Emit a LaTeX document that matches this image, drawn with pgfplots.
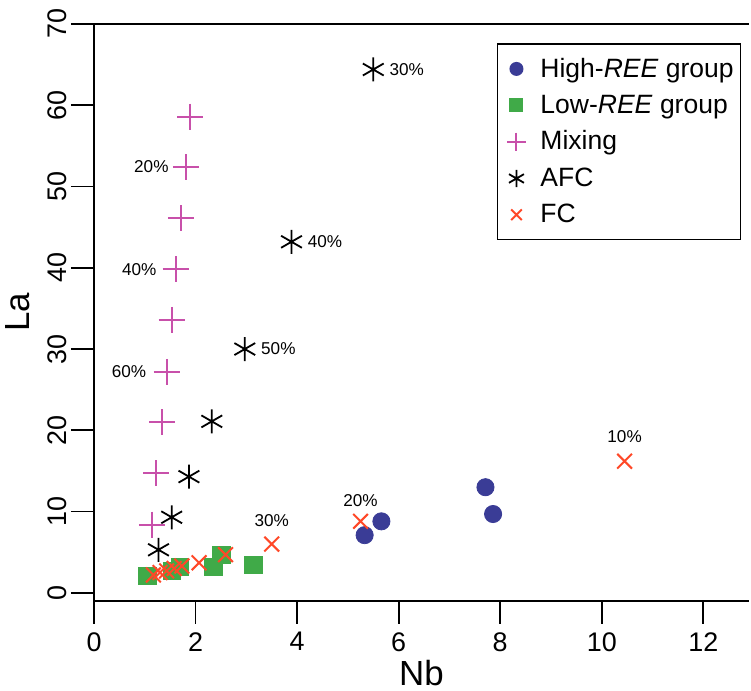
\documentclass[border=0pt]{standalone}
\usepackage{fontspec}
\setmainfont{Liberation Sans}
\usepackage{pgfplots}
\pgfplotsset{compat=1.18}
\definecolor{hiblue}{RGB}{58,60,150}
\definecolor{logreen}{RGB}{64,170,72}
\definecolor{mixmag}{RGB}{200,80,170}
\definecolor{fcred}{RGB}{255,72,40}
\begin{document}
\begin{tikzpicture}
\begin{axis}[
  scale only axis,
  width=327.5bp, height=288.5bp,
  xmin=0, xmax=12.9, ymin=-1, ymax=70,
  axis lines*=left,
  axis line style={line width=0.9bp, black},
  every tick/.style={line width=0.9bp, black},
  tick align=outside,
  major tick length=11.5bp,
  xtick={0,2,...,12}, ytick={0,10,...,70},
  /pgf/number format/assume math mode=true,
  tick label style={font=\fontsize{13.5}{16}\selectfont},
  yticklabel style={rotate=90, anchor=south, inner sep=2bp},
  xticklabel style={inner sep=2bp, yshift=-2bp},
  xlabel={Nb}, ylabel={La},
  label style={font=\fontsize{17.5}{20}\selectfont},
  xlabel style={inner sep=0.5bp, yshift=-1.8bp},
  ylabel style={yshift=3.5bp},
  clip=false,
  legend cell align=left,
  legend image code/.code={%
    \draw[#1, draw=none, mark size=0.72\pgfplotmarksize] plot coordinates {(8.5bp,0bp)};
    \path[draw=none] (0bp,0bp) (18bp,0bp);},
  legend style={at={(axis description cs:0.9885,0.967)}, anchor=north east,
    draw=black, line width=0.8bp, font=\fontsize{13.3}{16}\selectfont,
    row sep=3.4bp, inner xsep=1bp, inner ysep=5bp,
    nodes={inner xsep=2.5bp}},
]
\addplot[only marks, mark=*, mark size=4.3bp, hiblue, mark options={draw=hiblue, fill=hiblue}]
  coordinates {(5.33,7.1) (5.66,8.8) (7.71,13.0) (7.86,9.7)};
\addlegendentry{High-\textit{REE} group}
\addplot[only marks, mark=square*, mark size=4.3bp, logreen, mark options={draw=logreen, fill=logreen}]
  coordinates {(1.05,2.1) (1.53,2.7) (1.69,3.2) (2.35,3.2) (2.51,4.7) (3.14,3.4)};
\addlegendentry{Low-\textit{REE} group}
\addplot[only marks, mark=+, mark size=6.5bp, mixmag, mark options={line width=1bp, draw=mixmag}]
  coordinates {(1.90,58.6) (1.81,52.4) (1.71,46.1) (1.61,39.8) (1.53,33.6) (1.43,27.2) (1.34,21.0) (1.23,14.7) (1.14,8.4)};
\addlegendentry{Mixing}
\addplot[only marks, mark=asterisk, mark size=6bp, black, mark options={line width=0.9bp, draw=black}]
  coordinates {(5.50,64.4) (3.89,43.2) (2.97,30.0) (2.32,21.1) (1.87,14.3) (1.53,9.3) (1.27,5.3)};
\addlegendentry{AFC}
\addplot[only marks, mark=x, mark size=5.2bp, fcred, mark options={line width=1bp, draw=fcred}]
  coordinates {(1.17,2.2) (1.30,2.5) (1.43,2.7) (1.58,3.0) (1.73,3.3) (2.07,3.7) (2.59,4.7) (3.50,6.0) (5.25,8.8) (10.45,16.2)};
\addlegendentry{FC}
\draw[line width=0.9bp] (rel axis cs:0,1) -- (rel axis cs:1,1);
\begin{scope}[every node/.style={font=\fontsize{8.6}{10}\selectfont, inner sep=0pt}]
\node[anchor=east] at ([xshift=-8.5bp]axis cs:1.81,52.4) {20\%};
\node[anchor=east] at ([xshift=-9.5bp]axis cs:1.61,39.8) {40\%};
\node[anchor=east] at ([xshift=-10bp]axis cs:1.43,27.2) {60\%};
\node[anchor=west] at ([xshift=8bp]axis cs:5.50,64.4) {30\%};
\node[anchor=west] at ([xshift=8bp]axis cs:3.89,43.2) {40\%};
\node[anchor=west] at ([xshift=8bp]axis cs:2.97,30.0) {50\%};
\node[anchor=south] at ([yshift=9bp]axis cs:10.45,16.2) {10\%};
\node[anchor=south] at ([yshift=7bp]axis cs:5.25,8.8) {20\%};
\node[anchor=south] at ([yshift=8.5bp]axis cs:3.50,6.0) {30\%};
\end{scope}
\end{axis}
\pgfresetboundingbox
\path[use as bounding box] ([xshift=-47bp,yshift=-45bp]current axis.south west) rectangle ([xshift=1bp,yshift=12bp]current axis.north east);
\end{tikzpicture}
\end{document}
